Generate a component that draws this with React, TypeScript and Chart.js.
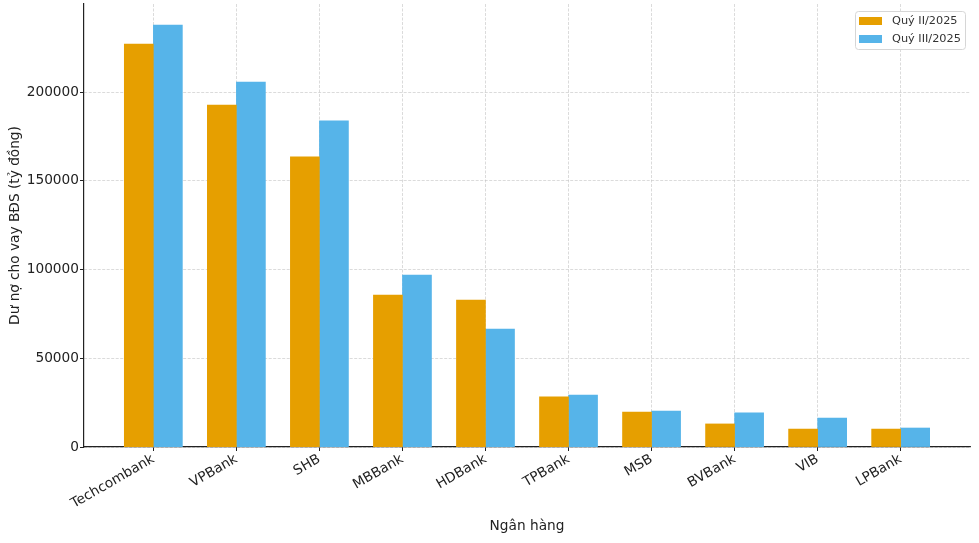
import React, { useEffect, useRef } from "react";
import { Chart, registerables } from "chart.js";

Chart.register(...registerables);

const categories = ["Techcombank", "VPBank", "SHB", "MBBank", "HDBank", "TPBank", "MSB", "BVBank", "VIB", "LPBank"];
const seriesNames = ["Quý II/2025", "Quý III/2025"];
const q2Values = [227000, 192700, 163500, 85600, 82800, 28200, 19700, 13000, 10100, 10100];
const q3Values = [237700, 205600, 183800, 96900, 66500, 29300, 20300, 19200, 16300, 10700];
const yTicks = [0, 50000, 100000, 150000, 200000];
const colors = ["#E69F00", "#56B4E9"];

const FONT = "'DejaVu Sans'";
const FS = 13.7;

const legendPlugin = {
  id: "boxLegend",
  afterDraw(chart: any) {
    const ctx = chart.ctx;
    const area = chart.chartArea;
    const x0 = area.right - 115;
    const y0 = area.top + 7;
    const w = 110;
    const h = 38;
    ctx.save();
    ctx.fillStyle = "rgba(255,255,255,0.8)";
    ctx.strokeStyle = "#d6d6d6";
    ctx.lineWidth = 1;
    ctx.beginPath();
    ctx.roundRect(x0 + 0.5, y0 + 0.5, w, h, 3);
    ctx.fill();
    ctx.stroke();
    ctx.font = "11.3px 'DejaVu Sans'";
    ctx.textBaseline = "middle";
    chart.data.datasets.forEach((ds: any, i: number) => {
      const cy = y0 + 10 + i * 18;
      ctx.fillStyle = ds.backgroundColor;
      ctx.fillRect(x0 + 4, cy - 4, 23, 8);
      ctx.fillStyle = "#333";
      ctx.fillText(ds.label, x0 + 37, cy);
    });
    ctx.restore();
  },
};

export default function App() {
  const ref = useRef<HTMLCanvasElement>(null);
  useEffect(() => {
    if (!ref.current) return;
    const gridColor = "rgba(190,190,190,0.7)";
    const chart = new Chart(ref.current, {
      type: "bar",
      data: {
        datasets: [
          {
            label: seriesNames[0],
            data: categories.map((_, i) => ({ x: i - 0.175, y: q2Values[i] })),
            backgroundColor: colors[0],
            barThickness: 29,
            grouped: false,
          } as any,
          {
            label: seriesNames[1],
            data: categories.map((_, i) => ({ x: i + 0.175, y: q3Values[i] })),
            backgroundColor: colors[1],
            barThickness: 29,
            grouped: false,
          } as any,
        ],
      },
      options: {
        animation: false,
        responsive: false,
        layout: { padding: { top: 4, right: 9, left: 0, bottom: 0 } },
        plugins: { legend: { display: false }, tooltip: { enabled: false }, title: { display: false } },
        scales: {
          x: {
            type: "linear",
            min: -0.835,
            max: categories.length - 1 + 0.835,
            offset: false,
            afterFit: (s: any) => {
              s.height = 96;
              s.paddingLeft = 0;
              s.paddingRight = 0;
            },
            afterBuildTicks: (s: any) => { s.ticks = categories.map((_, i) => ({ value: i })); },
            ticks: {
              stepSize: 1,
              includeBounds: false,
              autoSkip: false,
              maxRotation: 30,
              minRotation: 30,
              padding: 0,
              color: "#222",
              font: { family: FONT, size: FS },
              callback: (v: any) => (Number.isInteger(v) ? categories[v] : ""),
            },
            grid: {
              offset: false,
              color: gridColor,
              lineWidth: 0.8,
              tickColor: "#222",
              tickLength: 4,
              tickBorderDash: [],
              tickWidth: 1,
            } as any,
            border: { display: true, color: "#222", width: 1.2, dash: [3, 1.5] } as any,
            title: {
              display: true,
              text: "Ngân hàng",
              color: "#222",
              font: { family: FONT, size: FS },
              padding: { top: 0, bottom: 8 },
            },
          },
          y: {
            min: 0,
            max: 249600,
            afterFit: (s: any) => {
              s.width = 84;
              s.paddingTop = 0;
              s.paddingBottom = 0;
            },
            afterBuildTicks: (s: any) => { s.ticks = yTicks.map((v) => ({ value: v })); },
            ticks: {
              includeBounds: false,
              padding: 1,
              color: "#222",
              font: { family: FONT, size: FS },
              callback: (v: any) => String(v),
            },
            grid: {
              color: gridColor,
              lineWidth: 0.8,
              tickColor: "#222",
              tickLength: 4,
              tickBorderDash: [],
              tickWidth: 1,
            } as any,
            border: { display: true, color: "#222", width: 1.2, dash: [3, 1.5] } as any,
            title: {
              display: true,
              text: "Dư nợ cho vay BĐS (tỷ đồng)",
              color: "#222",
              font: { family: FONT, size: FS },
              padding: { top: 7, bottom: 0 },
            },
          },
        },
      },
      plugins: [legendPlugin],
    });
    return () => chart.destroy();
  }, []);
  return (
    <div style={{ position: "fixed", left: 0, top: 0, width: 979, height: 543, background: "#fff" }}>
      <canvas ref={ref} width={979} height={543} style={{ width: 979, height: 543, display: "block" }} />
    </div>
  );
}
